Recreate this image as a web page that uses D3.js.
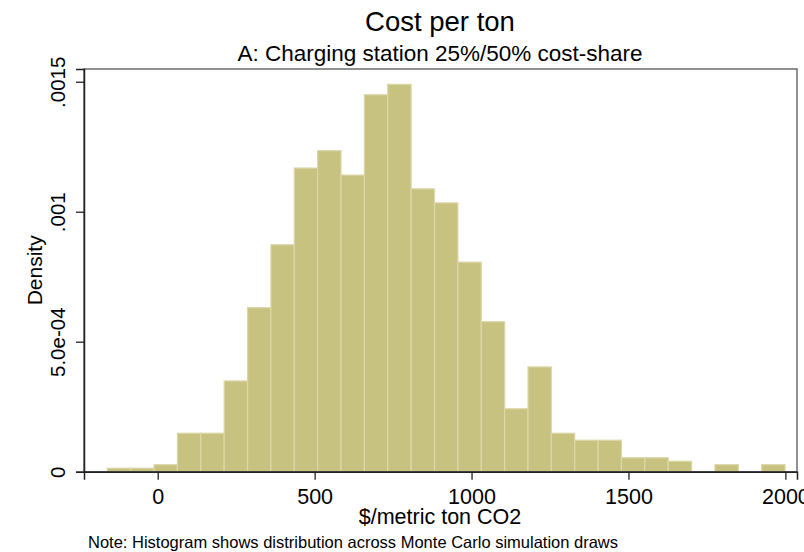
<!DOCTYPE html>
<html>
<head>
<meta charset="utf-8">
<script src="https://cdn.jsdelivr.net/npm/d3@7"></script>
<style>
  body { margin: 0; background: #fff; }
  text { font-family: "Liberation Sans", Arial, sans-serif; fill: #000; }
</style>
</head>
<body>
<div id="chart"></div>
<script>
// bin edges ($/metric ton CO2), 29 bins
const binEdges = [-160.6, -86.1, -11.7, 62.8, 137.3, 211.8, 286.2, 360.7, 435.2, 509.6,
  584.1, 658.6, 733.0, 807.5, 882.0, 956.5, 1030.9, 1105.4, 1179.9, 1254.3,
  1328.8, 1403.3, 1477.7, 1552.2, 1626.7, 1701.2, 1775.6, 1850.1, 1924.6, 1999.0];

// density per bin
const densities = [0.0000134, 0.0000134, 0.0000269, 0.000148, 0.000148, 0.000349, 0.000631, 0.000873,
  0.001168, 0.001235, 0.001141, 0.00145, 0.00149, 0.001088, 0.001034, 0.000806,
  0.000577, 0.000242, 0.000403, 0.000148, 0.000121, 0.000121, 0.0000537, 0.0000537,
  0.0000403, 0, 0.0000269, 0, 0.0000269];

const xTicks = [0, 500, 1000, 1500, 2000];
const yTicks = [0, 0.0005, 0.001, 0.0015];
const yTickLabels = ["0", "5.0e-04", ".001", ".0015"];

const width = 804, height = 552;
const plotL = 84, plotR = 797, plotT = 69, plotB = 471.7;

const svg = d3.select("#chart").append("svg")
  .attr("width", width)
  .attr("height", height);

const x = d3.scaleLinear().domain([-234.8, 2037]).range([plotL, plotR]);
const y = d3.scaleLinear().domain([0, 0.001549]).range([plotB, plotT]);

const bins = densities.map((d, i) => ({ x0: binEdges[i], x1: binEdges[i + 1], d: d }));

svg.append("g")
  .selectAll("rect")
  .data(bins.filter(b => b.d > 0))
  .enter().append("rect")
  .attr("x", b => x(b.x0))
  .attr("width", b => x(b.x1) - x(b.x0))
  .attr("y", b => y(b.d))
  .attr("height", b => y(0) - y(b.d))
  .attr("fill", "#c8c281")
  .attr("stroke", "#dcd7a8")
  .attr("stroke-width", 1.2);

// frame
svg.append("rect")
  .attr("x", plotL)
  .attr("y", plotT)
  .attr("width", plotR - plotL)
  .attr("height", plotB - plotT)
  .attr("fill", "none")
  .attr("stroke", "#555")
  .attr("stroke-width", 1.3);

// x axis
const xAxis = svg.append("g")
  .attr("transform", `translate(0,${plotB})`)
  .call(d3.axisBottom(x).tickValues(xTicks).tickSize(8).tickPadding(6).tickFormat(d3.format("d")));
xAxis.select(".domain").attr("stroke", "#222").attr("stroke-width", 1.5);
xAxis.selectAll(".tick line").attr("stroke", "#222").attr("stroke-width", 1.3);
xAxis.selectAll("text").style("font-size", "21.5px").attr("fill", "#000")
  .attr("dy", 0).attr("y", 32);

// y axis
const yAxis = svg.append("g")
  .attr("transform", `translate(${plotL},0)`)
  .call(d3.axisLeft(y).tickValues(yTicks).tickSize(8).tickFormat((d, i) => yTickLabels[i]));
yAxis.select(".domain").attr("stroke", "#222").attr("stroke-width", 1.5);
yAxis.selectAll(".tick line").attr("stroke", "#222").attr("stroke-width", 1.3);
yAxis.selectAll("text")
  .style("font-size", "20.5px")
  .attr("fill", "#000")
  .attr("x", 0).attr("dy", 0)
  .attr("text-anchor", "middle")
  .attr("transform", "translate(-19,0) rotate(-90)");

// titles
svg.append("text")
  .attr("x", 440).attr("y", 31)
  .attr("text-anchor", "middle")
  .style("font-size", "27.5px")
  .text("Cost per ton");

svg.append("text")
  .attr("x", 440).attr("y", 61)
  .attr("text-anchor", "middle")
  .style("font-size", "22.5px")
  .text("A: Charging station 25%/50% cost-share");

svg.append("text")
  .attr("transform", `translate(42,${(plotT + plotB) / 2}) rotate(-90)`)
  .attr("text-anchor", "middle")
  .style("font-size", "21px")
  .text("Density");

svg.append("text")
  .attr("x", 440).attr("y", 524)
  .attr("text-anchor", "middle")
  .style("font-size", "21.5px")
  .text("$/metric ton CO2");

svg.append("text")
  .attr("x", 88).attr("y", 548)
  .style("font-size", "16.5px")
  .text("Note: Histogram shows distribution across Monte Carlo simulation draws");
</script>
</body>
</html>
